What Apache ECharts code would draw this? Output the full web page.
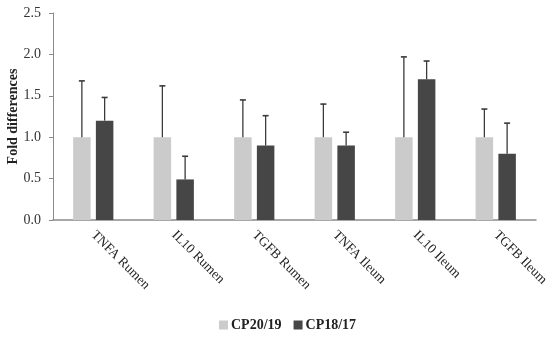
<!DOCTYPE html>
<html>
<head>
<meta charset="utf-8">
<script src="https://cdn.jsdelivr.net/npm/echarts@6/dist/echarts.min.js"></script>
<style>html,body{margin:0;padding:0;background:#fff;}#c{width:550px;height:337px;}</style>
</head>
<body>
<div id="c"></div>
<script>
var categories = ['TNFA Rumen', 'IL10 Rumen', 'TGFB Rumen', 'TNFA Ileum', 'IL10 Ileum', 'TGFB Ileum'];
var seriesNames = ['CP20/19', 'CP18/17'];
var cp2019 = [1.0, 1.0, 1.0, 1.0, 1.0, 1.0];
var cp2019Err = [0.68, 0.62, 0.45, 0.40, 0.97, 0.34];
var cp1817 = [1.2, 0.49, 0.9, 0.9, 1.7, 0.8];
var cp1817Err = [0.28, 0.28, 0.36, 0.16, 0.22, 0.37];
var yTicks = [0, 0.5, 1.0, 1.5, 2.0, 2.5];

var colors = ['#cbcbcb', '#464646'];
var FONT = 'Liberation Serif';
var BAR_W = 17.5, BAR_GAP = 0.3;

function errSeries(vals, errs, idx) {
  var data = vals.map(function (v, i) { return [i, v, v + errs[i]]; });
  return {
    type: 'custom',
    name: seriesNames[idx] + ' err',
    z: 10,
    silent: true,
    data: data,
    renderItem: function (params, api) {
      var i = api.value(0);
      var p0 = api.coord([i, api.value(1)]);
      var p1 = api.coord([i, api.value(2)]);
      var total = BAR_W * 2 + BAR_W * BAR_GAP;
      var off = -total / 2 + BAR_W / 2 + idx * (BAR_W + BAR_W * BAR_GAP);
      var x = p0[0] + off;
      return {
        type: 'group',
        children: [
          { type: 'line', shape: { x1: x, y1: p0[1], x2: x, y2: p1[1] }, style: { stroke: '#3a3a3a', lineWidth: 1.3 } },
          { type: 'line', shape: { x1: x - 3, y1: p1[1], x2: x + 3, y2: p1[1] }, style: { stroke: '#3a3a3a', lineWidth: 1.6 } }
        ]
      };
    }
  };
}

var chart = echarts.init(document.getElementById('c'), null, { renderer: 'canvas' });
chart.setOption({
  animation: false,
  backgroundColor: '#fff',
  grid: { left: 53, right: 14, top: 13, bottom: 117, containLabel: false, outerBoundsMode: 'none' },
  legend: {
    data: seriesNames,
    top: 318,
    left: 219,
    padding: 0,
    itemWidth: 9,
    itemHeight: 9,
    itemGap: 12,
    icon: 'rect',
    textStyle: { fontFamily: FONT, fontWeight: 'bold', fontSize: 14, color: '#222', padding: [0, 0, 0, -2] }
  },
  xAxis: {
    type: 'category',
    data: categories,
    axisLine: { lineStyle: { color: '#8a8a8a', width: 1.5 } },
    axisTick: { show: false },
    axisLabel: { rotate: -45, fontFamily: FONT, fontSize: 13.5, color: '#222', margin: 13, interval: 0 }
  },
  yAxis: {
    type: 'value',
    min: 0, max: 2.5, interval: 0.5,
    name: 'Fold differences',
    nameLocation: 'middle',
    nameGap: 33,
    nameMoveOverlap: false,
    nameTextStyle: { fontFamily: FONT, fontWeight: 'bold', fontSize: 14, color: '#222' },
    axisLine: { show: true, lineStyle: { color: '#8a8a8a', width: 1 } },
    axisTick: { show: true, length: 4, lineStyle: { color: '#8a8a8a' } },
    splitLine: { show: false },
    axisLabel: {
      fontFamily: FONT, fontSize: 14, color: '#333', margin: 12,
      formatter: function (v) { return yTicks.indexOf(v) >= 0 ? v.toFixed(1) : ''; }
    }
  },
  series: [
    { type: 'bar', name: seriesNames[0], data: cp2019, barWidth: BAR_W, barGap: (BAR_GAP * 100) + '%', itemStyle: { color: colors[0] } },
    { type: 'bar', name: seriesNames[1], data: cp1817, barWidth: BAR_W, barGap: (BAR_GAP * 100) + '%', itemStyle: { color: colors[1] } },
    errSeries(cp2019, cp2019Err, 0),
    errSeries(cp1817, cp1817Err, 1)
  ]
});
</script>
</body>
</html>
